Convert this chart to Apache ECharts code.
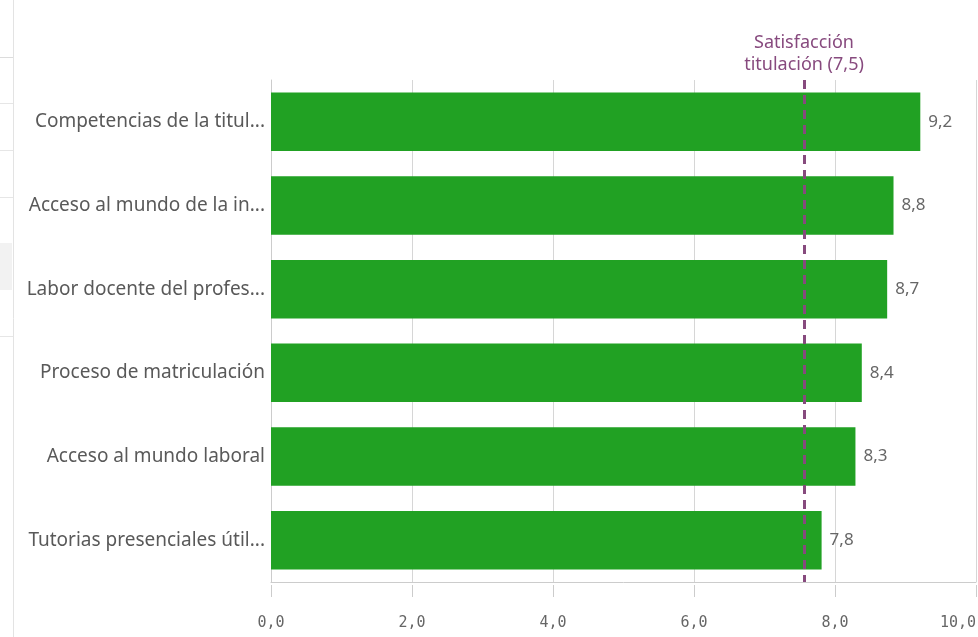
<!DOCTYPE html>
<html>
<head>
<meta charset="utf-8">
<script src="https://cdn.jsdelivr.net/npm/echarts@6/dist/echarts.min.js"></script>
<style>
html,body{margin:0;padding:0;background:#fff;}
#chart{width:978px;height:637px;}
</style>
</head>
<body>
<div id="chart"></div>
<script>
const categories = [
  'Competencias de la titul...',
  'Acceso al mundo de la in...',
  'Labor docente del profes...',
  'Proceso de matriculación',
  'Acceso al mundo laboral',
  'Tutorias presenciales útil...'
];
const values = [9.21, 8.83, 8.74, 8.38, 8.29, 7.81];
const refValue = 7.56;
const refLabel = 'Satisfacción\ntitulación (7,5)';
const axisMin = 0, axisMax = 10, axisStep = 2;

const fmt = v => Number(v).toFixed(1).replace('.', ',');
const uiFont = '"Noto Sans", "Open Sans", sans-serif';

const chart = echarts.init(document.getElementById('chart'), null, {renderer: 'canvas'});
chart.setOption({
  animation: false,
  backgroundColor: '#ffffff',
  graphic: [
    {type: 'line', shape: {x1: 13.5, y1: 0, x2: 13.5, y2: 637}, style: {stroke: '#e3e3e3', lineWidth: 1}},
    {type: 'line', shape: {x1: 0, y1: 57.5, x2: 13, y2: 57.5}, style: {stroke: '#dcdcdc', lineWidth: 1}},
    {type: 'line', shape: {x1: 0, y1: 103.5, x2: 13, y2: 103.5}, style: {stroke: '#e6e6e6', lineWidth: 1}},
    {type: 'line', shape: {x1: 0, y1: 150.5, x2: 13, y2: 150.5}, style: {stroke: '#e6e6e6', lineWidth: 1}},
    {type: 'line', shape: {x1: 0, y1: 197.5, x2: 13, y2: 197.5}, style: {stroke: '#e6e6e6', lineWidth: 1}},
    {type: 'rect', shape: {x: 0, y: 243, width: 12, height: 47}, style: {fill: '#f2f2f2'}},
    {type: 'line', shape: {x1: 0, y1: 336.5, x2: 13, y2: 336.5}, style: {stroke: '#e6e6e6', lineWidth: 1}}
  ],
  grid: {left: 271, right: 2, top: 80, bottom: 55, containLabel: false, outerBoundsMode: 'none'},
  xAxis: [
    {
      type: 'value', min: axisMin, max: axisMax, interval: axisStep,
      axisLine: {show: true, lineStyle: {color: '#cccccc', width: 1}},
      axisTick: {show: false},
      axisLabel: {show: false},
      splitLine: {show: true, lineStyle: {color: '#d6d6d6', width: 1}}
    },
    {
      type: 'value', min: axisMin, max: axisMax, interval: axisStep, position: 'bottom', offset: 3,
      axisLine: {show: false},
      axisTick: {show: true, length: 12, lineStyle: {color: '#cccccc', width: 1}},
      axisLabel: {
        show: true, margin: 31, color: '#666666', fontSize: 15,
        fontFamily: '"DejaVu Sans Mono", monospace',
        alignMaxLabel: 'right',
        formatter: fmt
      },
      splitLine: {show: false}
    }
  ],
  yAxis: {
    type: 'category', data: categories, inverse: true,
    axisLine: {show: true, lineStyle: {color: '#cccccc', width: 1}},
    axisTick: {show: false},
    axisLabel: {color: '#595959', fontSize: 19, margin: 6, fontFamily: uiFont, align: 'right'}
  },
  series: [{
    type: 'bar',
    data: values,
    xAxisIndex: 0,
    barCategoryGap: '30%',
    itemStyle: {color: '#21a123'},
    label: {
      show: true, position: 'right', distance: 8,
      color: '#666666', fontSize: 17, fontFamily: uiFont,
      formatter: p => fmt(p.value)
    },
    markLine: {
      silent: true, symbol: ['none', 'none'],
      lineStyle: {color: '#874a7e', type: [9, 6], width: 3},
      label: {
        show: true, position: 'start', distance: 4,
        color: '#874a7e', fontSize: 18, lineHeight: 22, fontFamily: uiFont, align: 'center',
        formatter: refLabel
      },
      data: [{xAxis: refValue}]
    }
  }]
});
</script>
</body>
</html>
